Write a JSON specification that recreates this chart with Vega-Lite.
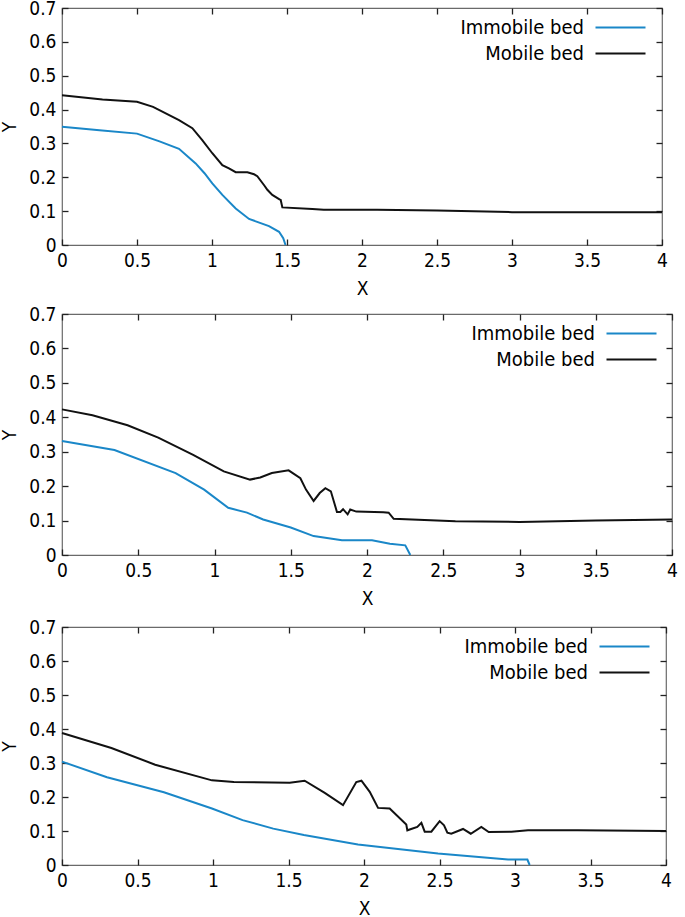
{
  "$schema": "https://vega.github.io/schema/vega-lite/v6.json",
  "background": "white",
  "padding": {"left": 0, "top": -2, "right": 0, "bottom": 0},
  "spacing": 5,
  "datasets": {
    "p1_immobile": [
      {"x": 0, "y": 0.349, "s": "Immobile bed"}, {"x": 0.25, "y": 0.339, "s": "Immobile bed"}, {"x": 0.5, "y": 0.329, "s": "Immobile bed"},
      {"x": 0.65, "y": 0.306, "s": "Immobile bed"}, {"x": 0.78, "y": 0.284, "s": "Immobile bed"}, {"x": 0.891, "y": 0.241, "s": "Immobile bed"},
      {"x": 0.95, "y": 0.212, "s": "Immobile bed"}, {"x": 1.002, "y": 0.182, "s": "Immobile bed"}, {"x": 1.069, "y": 0.148, "s": "Immobile bed"},
      {"x": 1.158, "y": 0.108, "s": "Immobile bed"}, {"x": 1.247, "y": 0.077, "s": "Immobile bed"}, {"x": 1.38, "y": 0.056, "s": "Immobile bed"},
      {"x": 1.447, "y": 0.039, "s": "Immobile bed"}, {"x": 1.475, "y": 0.02, "s": "Immobile bed"}, {"x": 1.49, "y": 0.0, "s": "Immobile bed"}
    ],
    "p1_mobile": [
      {"x": 0, "y": 0.442, "s": "Mobile bed"}, {"x": 0.27, "y": 0.43, "s": "Mobile bed"}, {"x": 0.5, "y": 0.423, "s": "Mobile bed"},
      {"x": 0.607, "y": 0.408, "s": "Mobile bed"}, {"x": 0.78, "y": 0.369, "s": "Mobile bed"}, {"x": 0.869, "y": 0.345, "s": "Mobile bed"},
      {"x": 0.935, "y": 0.31, "s": "Mobile bed"}, {"x": 1.002, "y": 0.271, "s": "Mobile bed"}, {"x": 1.069, "y": 0.236, "s": "Mobile bed"},
      {"x": 1.113, "y": 0.226, "s": "Mobile bed"}, {"x": 1.158, "y": 0.215, "s": "Mobile bed"}, {"x": 1.236, "y": 0.215, "s": "Mobile bed"},
      {"x": 1.28, "y": 0.209, "s": "Mobile bed"}, {"x": 1.302, "y": 0.203, "s": "Mobile bed"}, {"x": 1.35, "y": 0.175, "s": "Mobile bed"},
      {"x": 1.369, "y": 0.163, "s": "Mobile bed"}, {"x": 1.402, "y": 0.148, "s": "Mobile bed"}, {"x": 1.45, "y": 0.135, "s": "Mobile bed"},
      {"x": 1.458, "y": 0.133, "s": "Mobile bed"}, {"x": 1.469, "y": 0.111, "s": "Mobile bed"}, {"x": 1.669, "y": 0.106, "s": "Mobile bed"},
      {"x": 1.745, "y": 0.104, "s": "Mobile bed"}, {"x": 2.1, "y": 0.104, "s": "Mobile bed"}, {"x": 2.5, "y": 0.102, "s": "Mobile bed"},
      {"x": 3.0, "y": 0.097, "s": "Mobile bed"}, {"x": 4.0, "y": 0.097, "s": "Mobile bed"}
    ],
    "p2_immobile": [
      {"x": 0, "y": 0.331, "s": "Immobile bed"}, {"x": 0.344, "y": 0.305, "s": "Immobile bed"}, {"x": 0.745, "y": 0.238, "s": "Immobile bed"},
      {"x": 0.932, "y": 0.19, "s": "Immobile bed"}, {"x": 1.09, "y": 0.137, "s": "Immobile bed"}, {"x": 1.213, "y": 0.123, "s": "Immobile bed"},
      {"x": 1.319, "y": 0.103, "s": "Immobile bed"}, {"x": 1.5, "y": 0.08, "s": "Immobile bed"}, {"x": 1.65, "y": 0.055, "s": "Immobile bed"},
      {"x": 1.836, "y": 0.043, "s": "Immobile bed"}, {"x": 2.033, "y": 0.043, "s": "Immobile bed"}, {"x": 2.15, "y": 0.033, "s": "Immobile bed"},
      {"x": 2.251, "y": 0.028, "s": "Immobile bed"}, {"x": 2.284, "y": 0.0, "s": "Immobile bed"}
    ],
    "p2_mobile": [
      {"x": 0, "y": 0.423, "s": "Mobile bed"}, {"x": 0.2, "y": 0.406, "s": "Mobile bed"}, {"x": 0.43, "y": 0.377, "s": "Mobile bed"},
      {"x": 0.631, "y": 0.341, "s": "Mobile bed"}, {"x": 0.86, "y": 0.291, "s": "Mobile bed"}, {"x": 1.061, "y": 0.243, "s": "Mobile bed"},
      {"x": 1.233, "y": 0.219, "s": "Mobile bed"}, {"x": 1.3, "y": 0.225, "s": "Mobile bed"}, {"x": 1.376, "y": 0.238, "s": "Mobile bed"},
      {"x": 1.486, "y": 0.246, "s": "Mobile bed"}, {"x": 1.563, "y": 0.223, "s": "Mobile bed"}, {"x": 1.6, "y": 0.19, "s": "Mobile bed"},
      {"x": 1.65, "y": 0.157, "s": "Mobile bed"}, {"x": 1.69, "y": 0.18, "s": "Mobile bed"}, {"x": 1.727, "y": 0.194, "s": "Mobile bed"},
      {"x": 1.763, "y": 0.185, "s": "Mobile bed"}, {"x": 1.803, "y": 0.125, "s": "Mobile bed"}, {"x": 1.825, "y": 0.125, "s": "Mobile bed"},
      {"x": 1.843, "y": 0.133, "s": "Mobile bed"}, {"x": 1.873, "y": 0.118, "s": "Mobile bed"}, {"x": 1.89, "y": 0.132, "s": "Mobile bed"},
      {"x": 1.93, "y": 0.126, "s": "Mobile bed"}, {"x": 2.107, "y": 0.124, "s": "Mobile bed"}, {"x": 2.142, "y": 0.123, "s": "Mobile bed"},
      {"x": 2.175, "y": 0.105, "s": "Mobile bed"}, {"x": 2.58, "y": 0.098, "s": "Mobile bed"}, {"x": 3.0, "y": 0.096, "s": "Mobile bed"},
      {"x": 3.5, "y": 0.1, "s": "Mobile bed"}, {"x": 4.0, "y": 0.103, "s": "Mobile bed"}
    ],
    "p3_immobile": [
      {"x": 0, "y": 0.304, "s": "Immobile bed"}, {"x": 0.298, "y": 0.258, "s": "Immobile bed"}, {"x": 0.675, "y": 0.214, "s": "Immobile bed"},
      {"x": 0.993, "y": 0.166, "s": "Immobile bed"}, {"x": 1.196, "y": 0.132, "s": "Immobile bed"}, {"x": 1.399, "y": 0.107, "s": "Immobile bed"},
      {"x": 1.602, "y": 0.088, "s": "Immobile bed"}, {"x": 1.96, "y": 0.06, "s": "Immobile bed"}, {"x": 2.49, "y": 0.034, "s": "Immobile bed"},
      {"x": 2.954, "y": 0.016, "s": "Immobile bed"}, {"x": 3.082, "y": 0.016, "s": "Immobile bed"}, {"x": 3.097, "y": 0.0, "s": "Immobile bed"}
    ],
    "p3_mobile": [
      {"x": 0, "y": 0.388, "s": "Mobile bed"}, {"x": 0.327, "y": 0.344, "s": "Mobile bed"}, {"x": 0.617, "y": 0.295, "s": "Mobile bed"},
      {"x": 0.993, "y": 0.249, "s": "Mobile bed"}, {"x": 1.138, "y": 0.244, "s": "Mobile bed"}, {"x": 1.508, "y": 0.242, "s": "Mobile bed"},
      {"x": 1.607, "y": 0.248, "s": "Mobile bed"}, {"x": 1.74, "y": 0.212, "s": "Mobile bed"}, {"x": 1.861, "y": 0.176, "s": "Mobile bed"},
      {"x": 1.949, "y": 0.244, "s": "Mobile bed"}, {"x": 1.983, "y": 0.248, "s": "Mobile bed"}, {"x": 2.038, "y": 0.215, "s": "Mobile bed"},
      {"x": 2.093, "y": 0.168, "s": "Mobile bed"}, {"x": 2.17, "y": 0.166, "s": "Mobile bed"}, {"x": 2.28, "y": 0.119, "s": "Mobile bed"},
      {"x": 2.287, "y": 0.102, "s": "Mobile bed"}, {"x": 2.353, "y": 0.112, "s": "Mobile bed"}, {"x": 2.38, "y": 0.124, "s": "Mobile bed"},
      {"x": 2.402, "y": 0.098, "s": "Mobile bed"}, {"x": 2.446, "y": 0.098, "s": "Mobile bed"}, {"x": 2.501, "y": 0.129, "s": "Mobile bed"},
      {"x": 2.53, "y": 0.117, "s": "Mobile bed"}, {"x": 2.552, "y": 0.095, "s": "Mobile bed"}, {"x": 2.578, "y": 0.092, "s": "Mobile bed"},
      {"x": 2.656, "y": 0.106, "s": "Mobile bed"}, {"x": 2.707, "y": 0.092, "s": "Mobile bed"}, {"x": 2.777, "y": 0.112, "s": "Mobile bed"},
      {"x": 2.826, "y": 0.097, "s": "Mobile bed"}, {"x": 2.976, "y": 0.098, "s": "Mobile bed"}, {"x": 3.086, "y": 0.102, "s": "Mobile bed"},
      {"x": 3.417, "y": 0.102, "s": "Mobile bed"}, {"x": 4.0, "y": 0.1, "s": "Mobile bed"}
    ]
  },
  "vconcat": [
    {
      "width": 600, "height": 237,
      "layer": [
        {
          "data": {"name": "p1_immobile"},
          "mark": {"type": "line", "strokeWidth": 2},
          "encoding": {
            "x": {"field": "x", "type": "quantitative", "scale": {"domain": [0, 4], "nice": false}, "axis": {"values": [0, 0.5, 1, 1.5, 2, 2.5, 3, 3.5, 4], "format": "~g", "title": "X"}},
            "y": {"field": "y", "type": "quantitative", "scale": {"domain": [0, 0.7], "nice": false}, "axis": {"values": [0, 0.1, 0.2, 0.3, 0.4, 0.5, 0.6, 0.7], "format": "~g", "title": "Y"}},
            "color": {"field": "s", "type": "nominal", "scale": {"domain": ["Immobile bed", "Mobile bed"], "range": ["#1a87c8", "#111111"]}, "legend": {"legendX": 545, "legendY": 6}}
          }
        },
        {
          "data": {"name": "p1_mobile"},
          "mark": {"type": "line", "strokeWidth": 2},
          "encoding": {
            "x": {"field": "x", "type": "quantitative", "axis": {"orient": "top", "values": [0, 0.5, 1, 1.5, 2, 2.5, 3, 3.5, 4], "labels": false, "title": null}},
            "y": {"field": "y", "type": "quantitative", "axis": {"orient": "right", "values": [0, 0.1, 0.2, 0.3, 0.4, 0.5, 0.6, 0.7], "labels": false, "title": null}},
            "color": {"field": "s", "type": "nominal"}
          }
        }
      ],
      "resolve": {"axis": {"x": "independent", "y": "independent"}}
    },
    {
      "width": 610, "height": 241,
      "layer": [
        {
          "data": {"name": "p2_immobile"},
          "mark": {"type": "line", "strokeWidth": 2},
          "encoding": {
            "x": {"field": "x", "type": "quantitative", "scale": {"domain": [0, 4], "nice": false}, "axis": {"values": [0, 0.5, 1, 1.5, 2, 2.5, 3, 3.5, 4], "format": "~g", "title": "X"}},
            "y": {"field": "y", "type": "quantitative", "scale": {"domain": [0, 0.7], "nice": false}, "axis": {"values": [0, 0.1, 0.2, 0.3, 0.4, 0.5, 0.6, 0.7], "format": "~g", "title": "Y"}},
            "color": {"field": "s", "type": "nominal", "scale": {"domain": ["Immobile bed", "Mobile bed"], "range": ["#1a87c8", "#111111"]}, "legend": {"legendX": 556, "legendY": 6}}
          }
        },
        {
          "data": {"name": "p2_mobile"},
          "mark": {"type": "line", "strokeWidth": 2},
          "encoding": {
            "x": {"field": "x", "type": "quantitative", "axis": {"orient": "top", "values": [0, 0.5, 1, 1.5, 2, 2.5, 3, 3.5, 4], "labels": false, "title": null}},
            "y": {"field": "y", "type": "quantitative", "axis": {"orient": "right", "values": [0, 0.1, 0.2, 0.3, 0.4, 0.5, 0.6, 0.7], "labels": false, "title": null}},
            "color": {"field": "s", "type": "nominal"}
          }
        }
      ],
      "resolve": {"axis": {"x": "independent", "y": "independent"}}
    },
    {
      "width": 604, "height": 238,
      "title": {"text": " ", "fontSize": 1, "offset": 2},
      "layer": [
        {
          "data": {"name": "p3_immobile"},
          "mark": {"type": "line", "strokeWidth": 2},
          "encoding": {
            "x": {"field": "x", "type": "quantitative", "scale": {"domain": [0, 4], "nice": false}, "axis": {"values": [0, 0.5, 1, 1.5, 2, 2.5, 3, 3.5, 4], "format": "~g", "title": "X"}},
            "y": {"field": "y", "type": "quantitative", "scale": {"domain": [0, 0.7], "nice": false}, "axis": {"values": [0, 0.1, 0.2, 0.3, 0.4, 0.5, 0.6, 0.7], "format": "~g", "title": "Y"}},
            "color": {"field": "s", "type": "nominal", "scale": {"domain": ["Immobile bed", "Mobile bed"], "range": ["#1a87c8", "#111111"]}, "legend": {"legendX": 549, "legendY": 6}}
          }
        },
        {
          "data": {"name": "p3_mobile"},
          "mark": {"type": "line", "strokeWidth": 2},
          "encoding": {
            "x": {"field": "x", "type": "quantitative", "axis": {"orient": "top", "values": [0, 0.5, 1, 1.5, 2, 2.5, 3, 3.5, 4], "labels": false, "title": null}},
            "y": {"field": "y", "type": "quantitative", "axis": {"orient": "right", "values": [0, 0.1, 0.2, 0.3, 0.4, 0.5, 0.6, 0.7], "labels": false, "title": null}},
            "color": {"field": "s", "type": "nominal"}
          }
        }
      ],
      "resolve": {"axis": {"x": "independent", "y": "independent"}}
    }
  ],
  "resolve": {
    "scale": {"color": "independent"},
    "legend": {"color": "independent"}
  },
  "config": {
    "font": "DejaVu Sans Condensed",
    "view": {"stroke": "#6a6a6a", "strokeWidth": 1.2},
    "axis": {
      "domain": false,
      "grid": false,
      "ticks": true,
      "tickSize": 6,
      "offset": -6,
      "tickColor": "#222222",
      "tickWidth": 1.3,
      "labelFont": "DejaVu Sans Condensed",
      "labelFontSize": 19,
      "labelColor": "#000000",
      "labelPadding": 6,
      "labelFlush": false,
      "labelOverlap": false,
      "titleFont": "DejaVu Sans Condensed",
      "titleFontSize": 19,
      "titleFontWeight": "normal",
      "titleColor": "#000000"
    },
    "axisX": {"titlePadding": 9},
    "axisY": {"titlePadding": 9},
    "legend": {
      "orient": "none",
      "padding": 0,
      "title": null,
      "rowPadding": 2,
      "labelFont": "DejaVu Sans Condensed",
      "labelFontSize": 20,
      "labelColor": "#000000",
      "labelAlign": "right",
      "labelOffset": -50,
      "labelLimit": 0,
      "symbolType": "M-2,0H2",
      "symbolSize": 625,
      "symbolStrokeWidth": 2
    }
  }
}
